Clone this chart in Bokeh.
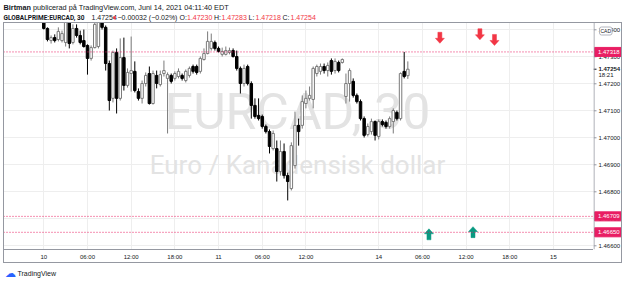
from bokeh.plotting import figure
from bokeh.layouts import column, row
from bokeh.models import (Range1d, FixedTicker, Label, Span, ColumnDataSource, InlineStyleSheet)
from bokeh.embed import file_html
from bokeh.resources import INLINE
from bokeh.core.properties import value

# ---------------- data (EURCAD, 30 min bars) ----------------
opens = [1.47434, 1.47405, 1.47360, 1.47371, 1.47364, 1.47360, 1.47353, 1.47427, 1.47353, 1.47405,
         1.47379, 1.47360, 1.47342, 1.47294, 1.47334, 1.47338, 1.47427, 1.47409, 1.47275, 1.47146,
         1.47316, 1.47146, 1.47297, 1.47194, 1.47238, 1.47246, 1.47171, 1.47146, 1.47201, 1.47238,
         1.47127, 1.47231, 1.47197, 1.47238, 1.47220, 1.47231, 1.47220, 1.47227, 1.47231, 1.47212,
         1.47231, 1.47264, 1.47264, 1.47246, 1.47290, 1.47312, 1.47331, 1.47353, 1.47331, 1.47309,
         1.47309, 1.47316, 1.47323, 1.47301, 1.47257, 1.47201, 1.47264, 1.47201, 1.47120, 1.47083,
         1.47079, 1.47042, 1.47023, 1.46960, 1.46960, 1.46875, 1.46949, 1.46860, 1.46812, 1.46897,
         1.47046, 1.47046, 1.47127, 1.47146, 1.47142, 1.47238, 1.47246, 1.47264, 1.47249, 1.47286,
         1.47249, 1.47279, 1.47279, 1.47153, 1.47201, 1.47209, 1.47157, 1.47134, 1.47071, 1.47012,
         1.47023, 1.47060, 1.47005, 1.47060, 1.47057, 1.47042, 1.47060, 1.47094, 1.47071, 1.47246,
         1.47230]
highs = [1.47453, 1.47409, 1.47379, 1.47383, 1.47409, 1.47397, 1.47453, 1.47442, 1.47420, 1.47420,
         1.47397, 1.47401, 1.47346, 1.47342, 1.47442, 1.47453, 1.47442, 1.47416, 1.47286, 1.47323,
         1.47331, 1.47368, 1.47371, 1.47257, 1.47375, 1.47283, 1.47183, 1.47212, 1.47242, 1.47264,
         1.47249, 1.47249, 1.47249, 1.47286, 1.47242, 1.47238, 1.47246, 1.47257, 1.47238, 1.47253,
         1.47264, 1.47271, 1.47271, 1.47301, 1.47331, 1.47394, 1.47386, 1.47360, 1.47338, 1.47334,
         1.47338, 1.47334, 1.47331, 1.47323, 1.47264, 1.47271, 1.47271, 1.47209, 1.47146, 1.47146,
         1.47086, 1.47049, 1.47031, 1.47027, 1.46990, 1.46990, 1.46979, 1.46871, 1.46983, 1.47097,
         1.47071, 1.47157, 1.47175, 1.47190, 1.47264, 1.47271, 1.47275, 1.47275, 1.47279, 1.47294,
         1.47294, 1.47286, 1.47294, 1.47238, 1.47257, 1.47220, 1.47164, 1.47142, 1.47079, 1.47053,
         1.47071, 1.47064, 1.47068, 1.47068, 1.47064, 1.47079, 1.47109, 1.47101, 1.47242, 1.47318,
         1.47283]
lows = [1.47401, 1.47357, 1.47349, 1.47353, 1.47357, 1.47353, 1.47338, 1.47331, 1.47346, 1.47371,
        1.47346, 1.47334, 1.47234, 1.47286, 1.47331, 1.47331, 1.47401, 1.47249, 1.47101, 1.47131,
        1.47090, 1.47138, 1.47175, 1.47186, 1.47171, 1.47168, 1.47138, 1.47127, 1.47190, 1.47123,
        1.47123, 1.47183, 1.47190, 1.47227, 1.47016, 1.47201, 1.47212, 1.47220, 1.47212, 1.47205,
        1.47223, 1.47238, 1.47234, 1.47238, 1.47286, 1.47309, 1.47323, 1.47323, 1.47316, 1.47301,
        1.47305, 1.47309, 1.47297, 1.47249, 1.47164, 1.47190, 1.47194, 1.47071, 1.47071, 1.47064,
        1.47034, 1.47016, 1.46942, 1.46953, 1.46838, 1.46860, 1.46849, 1.46768, 1.46805, 1.46886,
        1.46971, 1.47034, 1.47109, 1.47138, 1.47109, 1.47227, 1.47234, 1.47238, 1.47227, 1.47234,
        1.47238, 1.47242, 1.47275, 1.47127, 1.47134, 1.47149, 1.47127, 1.47064, 1.47001, 1.47005,
        1.47012, 1.46990, 1.46994, 1.47042, 1.47034, 1.47034, 1.47016, 1.47064, 1.47064, 1.47220,
        1.47218]
closes = [1.47405, 1.47364, 1.47371, 1.47360, 1.47394, 1.47386, 1.47427, 1.47349, 1.47405, 1.47379,
          1.47353, 1.47338, 1.47294, 1.47334, 1.47420, 1.47427, 1.47409, 1.47275, 1.47138, 1.47316,
          1.47146, 1.47297, 1.47194, 1.47242, 1.47249, 1.47175, 1.47146, 1.47201, 1.47231, 1.47127,
          1.47238, 1.47201, 1.47234, 1.47249, 1.47234, 1.47209, 1.47238, 1.47246, 1.47220, 1.47246,
          1.47257, 1.47246, 1.47242, 1.47294, 1.47312, 1.47357, 1.47357, 1.47331, 1.47320, 1.47320,
          1.47323, 1.47323, 1.47301, 1.47257, 1.47201, 1.47257, 1.47201, 1.47120, 1.47079, 1.47071,
          1.47042, 1.47023, 1.46968, 1.47016, 1.46875, 1.46949, 1.46860, 1.46838, 1.46971, 1.47046,
          1.47023, 1.47134, 1.47146, 1.47157, 1.47257, 1.47264, 1.47264, 1.47249, 1.47268, 1.47246,
          1.47283, 1.47249, 1.47290, 1.47201, 1.47249, 1.47157, 1.47134, 1.47071, 1.47009, 1.47042,
          1.47060, 1.47009, 1.47060, 1.47049, 1.47042, 1.47071, 1.47101, 1.47071, 1.47238, 1.47227,
          1.47254]
bars = list(range(len(opens)))

time_ticks = [0, 12, 24, 36, 48, 60, 72, 92, 104, 116, 128, 140]
time_labels = ["10", "06:00", "12:00", "18:00", "11", "06:00", "12:00", "14", "06:00", "12:00", "18:00", "15"]
price_ticks = [1.466, 1.467, 1.468, 1.469, 1.470, 1.471, 1.472, 1.473, 1.474]
price_labels = ["1.46600", "1.46700", "1.46800", "1.46900", "1.47000", "1.47100", "1.47200", "1.47300", "1.47400"]
levels = [1.47318, 1.46709, 1.46650]
down_arrow_x = [108.8, 119.8, 123.8]
down_arrow_tip = [1.47350, 1.47363, 1.47342]
up_arrow_x = [105.8, 117.9]
up_arrow_tip = [1.46663, 1.46671]
symbol = "GLOBALPRIME:EURCAD, 30"
change_text = "−0.00032 (−0.02%)"
countdown = "18:21"
author = "Birtman"
published = "publicerad på TradingView.com, Juni 14, 2021 04:11:40 EDT"

# ---------------- styles ----------------
DARK = "#131722"
RED = "#f23645"
LEVEL = "#e91e63"
GREEN = "#089981"
BORDER = "#9598a1"
GRID = "#eeeeee"
UP_LINE = "#7a7a7a"
DOWN_COL = "#000000"
FONT = "Liberation Sans"

X0, X1 = -11.07, 151.0
Y0, Y1 = 1.465863, 1.474270
FW, FH = 590, 227


def frame_css(rules):
    return InlineStyleSheet(css=":host{position:relative;} :host::after{content:'';position:absolute;"
                                "pointer-events:none;box-sizing:border-box;" + rules + "}")


yr = Range1d(Y0, Y1)

# ---------------- header ----------------
hd = figure(width=625, height=22, x_range=Range1d(0, 625), y_range=Range1d(22, 0),
            output_backend="svg", toolbar_location=None, x_axis_location=None,
            y_axis_location=None, min_border=0)
hd.grid.visible = False
hd.outline_line_color = None
hsrc = ColumnDataSource(dict(
    x=[3, 32.5, 3, 91, 111, 117, 179, 186.5, 213.5, 221, 248, 255, 282, 290],
    y=[7, 7, 17, 17, 17, 17, 17, 17, 17, 17, 17, 17, 17, 17],
    text=[author, published, symbol, f"{closes[-1]:.5f}", "▼", change_text,
          "O:", f"{opens[-1]:.5f}", "H:", f"{highs[-1]:.5f}", "L:", f"{lows[-1]:.5f}",
          "C:", f"{closes[-1]:.5f}"],
    color=[DARK, DARK, DARK, DARK, RED, DARK, DARK, RED, DARK, RED, DARK, RED, DARK, RED],
    style=["bold", "normal", "bold"] + ["normal"] * 11,
    size=["7.3px", "7.3px", "6.5px", "7px", "6px"] + ["7px"] * 9,
    font=[FONT, FONT, "Roboto"] + [FONT] * 11,
))
hd.text(x="x", y="y", text="text", text_color="color", text_font_style="style",
        text_font_size="size", text_font="font", text_baseline="middle",
        text_align="left", source=hsrc)

# ---------------- main chart ----------------
up = [c >= o for o, c in zip(opens, closes)]
src = ColumnDataSource(dict(
    x=bars,
    top=[max(o, c) for o, c in zip(opens, closes)],
    bottom=[min(o, c) for o, c in zip(opens, closes)],
    high=highs, low=lows,
    fill=["#ffffff" if u else DOWN_COL for u in up],
    line=[UP_LINE if u else DOWN_COL for u in up],
))

p = figure(width=593, height=241, x_range=Range1d(X0, X1), y_range=yr,
           output_backend="svg", toolbar_location=None, y_axis_location=None,
           min_border_left=3, min_border_right=0, min_border_top=0, min_border_bottom=14,
           stylesheets=[frame_css(f"left:3px;top:0;width:590px;height:241px;"
                                  f"border-left:1px solid {BORDER};border-top:1px solid {BORDER};"
                                  f"border-bottom:1px solid {BORDER};")])
p.background_fill_color = "white"
p.border_fill_color = "white"
p.outline_line_color = None

p.xaxis.ticker = FixedTicker(ticks=time_ticks)
p.xaxis.major_label_overrides = {t: l for t, l in zip(time_ticks, time_labels)}
p.xaxis.major_tick_line_color = None
p.xaxis.major_tick_out = 0
p.xaxis.major_tick_in = 0
p.xaxis.minor_tick_line_color = None
p.xaxis.axis_line_color = BORDER
p.xaxis.major_label_text_font_size = "6px"
p.xaxis.major_label_text_color = DARK
p.xaxis.major_label_text_font = FONT
p.xaxis.major_label_standoff = 4

p.xgrid.grid_line_color = GRID
p.ygrid.ticker = FixedTicker(ticks=price_ticks)
p.ygrid.grid_line_color = GRID

# watermark
p.add_layout(Label(x=294, y=138, x_units="screen", y_units="screen", text="EURCAD, 30",
                   text_font="Roboto", text_font_size="50px", text_color="#e3e3e3",
                   text_align="center", text_baseline="middle", level="underlay"))
p.add_layout(Label(x=294, y=85, x_units="screen", y_units="screen", text="Euro / Kanadensisk dollar",
                   text_font="Roboto", text_font_size="26px", text_color="#e3e3e3",
                   text_align="center", text_baseline="middle", level="underlay"))

# candles
p.segment(x0="x", y0="high", x1="x", y1="low", line_color="line", line_width=1, source=src)
p.vbar(x="x", width=0.68, top="top", bottom="bottom", fill_color="fill",
       line_color="line", line_width=1, source=src)

# horizontal levels
for lv in levels:
    p.add_layout(Span(location=lv, dimension="width", line_color=LEVEL,
                      line_dash="1 2", line_width=1))

# arrow marks (shape in pixels, placed at data tip)
bx = (X1 - X0) / FW
py = (Y1 - Y0) / FH
shape = [(0, 0), (-4.5, 5), (-2, 5), (-2, 11), (2, 11), (2, 5), (4.5, 5)]


def arrow_patches(xs, tips, sign):
    px, pys = [], []
    for t, tip in zip(xs, tips):
        px.append([t + dx * bx for dx, dy in shape])
        pys.append([tip + sign * dy * py for dx, dy in shape])
    return px, pys


dx_, dy_ = arrow_patches(down_arrow_x, down_arrow_tip, 1)
p.patches(dx_, dy_, fill_color=RED, line_color=RED, line_width=0.5)
ux_, uy_ = arrow_patches(up_arrow_x, up_arrow_tip, -1)
p.patches(ux_, uy_, fill_color=GREEN, line_color=GREEN, line_width=0.5)

# ---------------- price scale ----------------
pr = figure(width=32, height=241, x_range=Range1d(0, 32), y_range=yr,
            output_backend="svg", toolbar_location=None, x_axis_location=None,
            y_axis_location=None, min_border=0, min_border_bottom=14,
            stylesheets=[frame_css(f"left:0;top:0;width:29px;height:241px;"
                                   f"border-top:1px solid {BORDER};border-right:1px solid {BORDER};"
                                   f"border-bottom:1px solid {BORDER};")])
pr.grid.visible = False
pr.outline_line_color = None
pr.background_fill_color = "white"
pr.border_fill_color = "white"
pr.add_layout(Span(location=0.5, dimension="height", line_color=BORDER, line_width=1))
pr.segment(x0=[0] * len(price_ticks), y0=price_ticks, x1=[3] * len(price_ticks), y1=price_ticks,
           line_color=BORDER, line_width=1)
pr.text(x=[5] * len(price_ticks), y=price_ticks, text=price_labels, text_color=DARK,
        text_font=value(FONT), text_font_size="6px", text_baseline="middle", text_align="left")
# last price + countdown
pr.segment(x0=[0], y0=[closes[-1]], x1=[3], y1=[closes[-1]], line_color=DARK, line_width=1)
pr.text(x=[5], y=[closes[-1]], text=[f"{closes[-1]:.5f}"], text_color=DARK,
        text_font=value(FONT), text_font_size="6px", text_font_style="bold",
        text_baseline="middle", text_align="left")
pr.text(x=[5], y=[closes[-1]], text=[countdown], text_color=DARK, y_offset=6,
        text_font=value(FONT), text_font_size="6px", text_baseline="middle", text_align="left")
# level boxes
pr.rect(x=[14.5] * len(levels), y=levels, width=27, height=9, height_units="screen",
        fill_color=LEVEL, line_color=LEVEL)
pr.text(x=[4.5] * len(levels), y=levels, text=[f"{lv:.5f}" for lv in levels],
        text_color="white", text_font=value(FONT), text_font_size="6px",
        text_baseline="middle", text_align="left")
# currency box
pr.add_layout(Label(x=6, y=218.5, x_units="screen", y_units="screen", text="CAD",
                    text_font=FONT, text_font_size="5px", text_color=DARK,
                    background_fill_color="white", border_line_color="#b2b5be",
                    text_baseline="middle", text_align="left", padding=1, border_radius=2))

# ---------------- footer ----------------
ft = figure(width=625, height=20, x_range=Range1d(0, 625), y_range=Range1d(20, 0),
            output_backend="svg", toolbar_location=None, x_axis_location=None,
            y_axis_location=None, min_border=0)
ft.grid.visible = False
ft.outline_line_color = None
ft.text(x=[4, 17], y=[9.5, 9.5], text=["☁", "TradingView"], text_color=["#2962ff", DARK],
        text_font=value(FONT), text_font_size=["11px", "7px"], text_baseline="middle",
        text_align="left")

layout = column(hd, row(p, pr, spacing=0), ft, spacing=0)
open("out.html", "w").write(file_html(layout, INLINE))
